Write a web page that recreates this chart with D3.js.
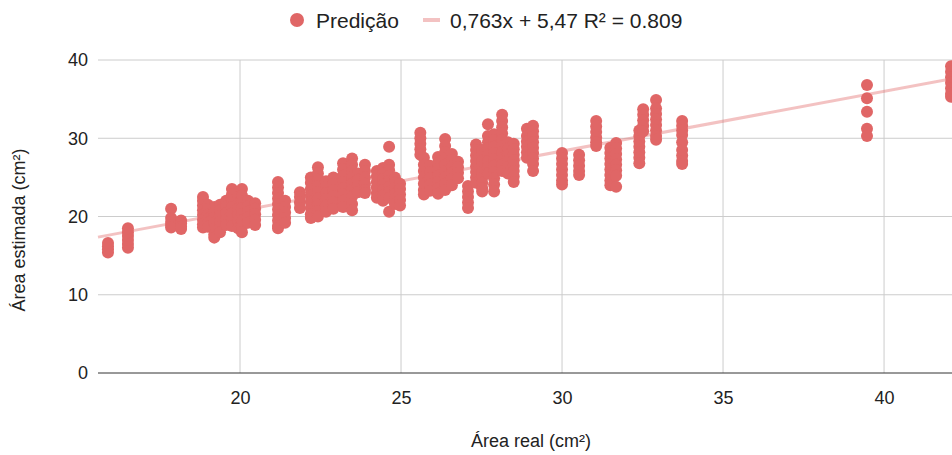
<!DOCTYPE html>
<html>
<head>
<meta charset="utf-8">
<script src="https://cdn.jsdelivr.net/npm/d3@7"></script>
<style>
  body { margin: 0; background: #fff; }
  svg { display: block; font-family: Arial, "Liberation Sans", sans-serif; }
</style>
</head>
<body>
<script>
// real area (x) of each measured column
const realArea = [15.9, 16.52, 17.86, 18.17, 18.85, 19.0, 19.2, 19.38, 19.57, 19.75, 19.94, 20.06, 20.25, 20.47,
  21.18, 21.4, 21.86, 22.2, 22.42, 22.67, 22.9, 23.2, 23.48, 23.66, 23.88, 24.25, 24.44, 24.63, 24.81, 24.97,
  25.6, 25.71, 25.9, 26.15, 26.37, 26.58, 26.77, 27.08, 27.33, 27.52, 27.7, 27.89, 28.14, 28.32, 28.5, 28.91, 29.1,
  30.0, 30.53, 31.06, 31.5, 31.68, 32.4, 32.52, 32.92, 33.73, 39.47, 42.08];

// estimated area for every prediction in that column
const estimatedArea = [
  [15.4, 15.8, 16.2, 16.6],
  [16.0, 16.5, 17.0, 17.5, 18.0, 18.5],
  [21.0, 19.8, 19.3, 18.9, 18.6],
  [19.5, 19.1, 18.7, 18.4],
  [22.5, 22.0, 21.4, 20.8, 20.2, 19.6, 19.0, 18.6],
  [21.5, 20.9, 20.3, 19.7, 19.2, 18.7],
  [21.2, 20.5, 19.8, 19.2, 18.4, 17.7, 17.3],
  [21.5, 20.8, 20.0, 19.3, 18.6, 18.0],
  [22.0, 21.2, 20.4, 19.6, 18.9],
  [23.5, 22.8, 22.0, 21.2, 20.4, 19.6, 18.8],
  [22.5, 21.7, 21.0, 20.2, 19.5, 18.5],
  [23.5, 22.7, 21.9, 21.1, 20.3, 19.5, 18.7, 18.0],
  [22.0, 21.3, 20.6, 19.9, 19.2],
  [21.7, 21.0, 20.3, 19.6, 18.9],
  [24.4, 23.7, 23.0, 22.3, 21.6, 20.9, 20.2, 19.5, 18.8, 18.5],
  [22.0, 21.2, 20.5, 19.8, 19.2],
  [23.1, 22.5, 21.8, 21.1],
  [25.0, 24.3, 23.5, 22.7, 21.9, 21.1, 20.3, 19.8],
  [26.3, 25.5, 24.7, 23.9, 23.1, 22.3, 21.5, 20.7, 20.0],
  [24.5, 23.8, 23.0, 22.2, 21.4, 20.6],
  [25.0, 24.2, 23.4, 22.6, 21.8, 21.0],
  [26.8, 26.0, 25.2, 24.4, 23.6, 22.8, 22.0, 21.2],
  [27.4, 26.6, 25.8, 25.0, 24.2, 23.4, 22.6, 21.6, 20.8],
  [25.5, 24.7, 23.9, 23.1],
  [26.6, 25.8, 25.0, 24.2, 23.4, 23.0],
  [25.8, 25.1, 24.4, 23.7, 23.0, 22.4],
  [26.2, 25.5, 24.8, 24.1, 23.4, 22.7, 22.0],
  [28.9, 26.6, 25.9, 25.2, 24.5, 23.8, 23.1, 22.4, 20.6],
  [25.0, 24.3, 23.6, 22.9, 22.2, 21.6],
  [24.2, 23.5, 22.8, 22.1, 21.4],
  [30.7, 30.0, 29.3, 28.6, 27.9],
  [27.5, 26.6, 25.8, 25.0, 24.2, 23.4, 22.8],
  [26.5, 25.7, 24.9, 24.1, 23.3],
  [27.6, 26.8, 26.0, 25.2, 24.4, 23.6, 22.9],
  [29.9, 29.0, 28.2, 27.4, 26.6, 25.8, 25.0, 24.2, 23.4],
  [28.0, 27.2, 26.4, 25.6, 24.8, 24.0],
  [27.0, 26.3, 25.6, 24.9],
  [23.9, 23.2, 22.5, 21.8, 21.1],
  [29.2, 28.5, 27.8, 27.1, 26.4, 25.7, 25.0, 24.3],
  [28.5, 27.8, 27.1, 26.4, 25.7, 25.0, 24.3, 23.6, 23.2],
  [31.8, 30.3, 29.5, 28.7, 27.9, 27.1, 26.3, 25.5],
  [30.5, 29.7, 28.9, 28.1, 27.3, 26.5, 25.7, 24.9, 24.1, 23.2],
  [33.0, 32.2, 31.4, 30.6, 29.8, 29.0, 28.2, 27.4, 26.6, 25.8],
  [29.5, 28.7, 27.9, 27.1, 26.3, 25.5],
  [29.3, 28.6, 27.9, 27.2, 26.5, 25.8, 25.1, 24.4],
  [31.2, 30.3, 29.6, 28.9, 28.2, 27.5],
  [31.6, 30.9, 30.2, 29.5, 28.8, 28.1, 27.4, 26.7, 25.8],
  [28.1, 27.4, 26.7, 26.0, 25.3, 24.6, 24.1],
  [27.9, 27.2, 26.5, 25.8, 25.3],
  [32.2, 31.5, 30.8, 30.1, 29.5, 29.0],
  [28.8, 28.1, 27.4, 26.7, 26.0, 25.3, 24.6, 24.0],
  [29.4, 28.7, 28.0, 27.3, 26.6, 25.9, 25.2, 23.8],
  [31.0, 30.3, 29.6, 28.9, 28.2, 27.5, 26.8],
  [33.7, 33.0, 32.3, 31.6, 30.9],
  [34.9, 33.8, 33.1, 32.4, 31.7, 31.0, 30.3, 29.8],
  [32.2, 31.6, 31.0, 30.4, 29.5, 28.5, 27.8, 27.1, 26.7],
  [36.8, 35.1, 33.4, 31.2, 30.3],
  [39.2, 38.5, 37.8, 37.1, 36.4, 35.7, 35.3]
];

// linear trendline reported by the spreadsheet
const trendSlope = 0.763;
const trendIntercept = 5.47;
const trendLabel = "0,763x + 5,47 R² = 0.809";
const seriesName = "Predição";

const xTicks = [20, 25, 30, 35, 40];
const yTicks = [0, 10, 20, 30, 40];

const width = 952, height = 455;
const margin = {top: 60, right: 0, bottom: 82, left: 98};
const color = "#e06666";

const points = [];
realArea.forEach((x, i) => estimatedArea[i].forEach(y => points.push({x, y})));

const svg = d3.select("body").append("svg")
    .attr("width", width)
    .attr("height", height);

const x = d3.scaleLinear()
    .domain([15.59, 42.11])
    .range([margin.left, width - margin.right]);

const y = d3.scaleLinear()
    .domain([0, 40])
    .range([height - margin.bottom, margin.top]);

// gridlines
svg.append("g")
    .selectAll("line")
    .data(yTicks.filter(d => d !== 0))
    .enter().append("line")
    .attr("x1", margin.left)
    .attr("x2", width - margin.right)
    .attr("y1", d => y(d))
    .attr("y2", d => y(d))
    .attr("stroke", "#cccccc");

svg.append("g")
    .selectAll("line")
    .data(xTicks)
    .enter().append("line")
    .attr("x1", d => x(d))
    .attr("x2", d => x(d))
    .attr("y1", margin.top)
    .attr("y2", height - margin.bottom)
    .attr("stroke", "#cccccc");

// baseline
svg.append("line")
    .attr("x1", margin.left)
    .attr("x2", width - margin.right)
    .attr("y1", y(0))
    .attr("y2", y(0))
    .attr("stroke", "#333333");

// tick labels
const xAxis = d3.axisBottom(x).tickValues(xTicks).tickSize(0).tickPadding(0);
svg.append("g")
    .attr("transform", `translate(0,${y(0) + 31})`)
    .call(xAxis)
    .call(g => g.select(".domain").remove())
    .selectAll("text")
    .attr("dy", 0)
    .attr("font-size", 18)
    .attr("font-family", "Arial, 'Liberation Sans', sans-serif")
    .attr("fill", "#222");

const yAxis = d3.axisLeft(y).tickValues(yTicks).tickSize(0).tickPadding(0);
svg.append("g")
    .attr("transform", `translate(${margin.left - 10},0)`)
    .call(yAxis)
    .call(g => g.select(".domain").remove())
    .selectAll("text")
    .attr("font-size", 18)
    .attr("font-family", "Arial, 'Liberation Sans', sans-serif")
    .attr("fill", "#222");

// trendline
svg.append("line")
    .attr("x1", x(x.domain()[0]))
    .attr("x2", x(x.domain()[1]))
    .attr("y1", y(trendSlope * x.domain()[0] + trendIntercept))
    .attr("y2", y(trendSlope * x.domain()[1] + trendIntercept))
    .attr("stroke", color)
    .attr("stroke-opacity", 0.4)
    .attr("stroke-width", 3);

// points
svg.append("g")
    .selectAll("circle")
    .data(points)
    .enter().append("circle")
    .attr("cx", d => x(d.x))
    .attr("cy", d => y(d.y))
    .attr("r", 6)
    .attr("fill", color);

// axis titles
svg.append("text")
    .attr("x", 531)
    .attr("y", 447)
    .attr("text-anchor", "middle")
    .attr("font-size", 18)
    .attr("fill", "#222")
    .text("Área real (cm²)");

svg.append("text")
    .attr("transform", "translate(25,230) rotate(-90)")
    .attr("text-anchor", "middle")
    .attr("font-size", 18)
    .attr("fill", "#222")
    .text("Área estimada (cm²)");

// legend
const legend = svg.append("g");
legend.append("circle")
    .attr("cx", 297)
    .attr("cy", 20)
    .attr("r", 7)
    .attr("fill", color);
legend.append("text")
    .attr("x", 316)
    .attr("y", 28)
    .attr("font-size", 21)
    .attr("fill", "#222")
    .text(seriesName);
legend.append("line")
    .attr("x1", 423)
    .attr("x2", 440)
    .attr("y1", 20)
    .attr("y2", 20)
    .attr("stroke", color)
    .attr("stroke-opacity", 0.4)
    .attr("stroke-width", 4);
legend.append("text")
    .attr("x", 450)
    .attr("y", 28)
    .attr("font-size", 21)
    .attr("fill", "#222")
    .text(trendLabel);
</script>
</body>
</html>
